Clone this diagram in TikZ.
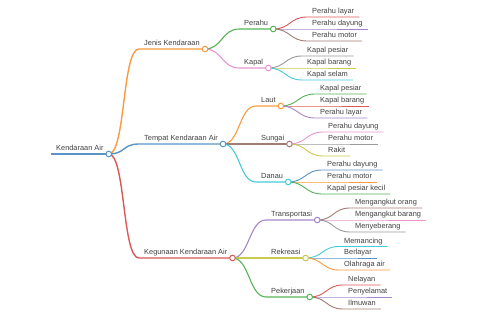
\documentclass[tikz,border=0pt]{standalone}
\usepackage{fontspec}
\setmainfont{Liberation Sans}
\definecolor{cblue}{HTML}{5A94C6}
\definecolor{corange}{HTML}{FB9A3E}
\definecolor{cgreen}{HTML}{56B356}
\definecolor{cred}{HTML}{DB5858}
\definecolor{cpurple}{HTML}{A685C9}
\definecolor{cbrown}{HTML}{A27C74}
\definecolor{cpink}{HTML}{E996CF}
\definecolor{cgray}{HTML}{9A9A9A}
\definecolor{colive}{HTML}{CACB4E}
\definecolor{ccyan}{HTML}{45CBD9}

\begin{document}
\begin{tikzpicture}[
    x=1pt, y=-1pt,
    topic/.style={
        anchor=south west, inner xsep=5pt, inner ysep=1pt,
        text height=5.6pt, text depth=1.8pt,
        font=\fontsize{7.4}{8.2}\selectfont, text=black!75
    },
    dot/.style={
        circle, draw, fill=white, inner sep=0pt,
        minimum size=5.6pt, line width=1pt
    },
    lvl0/.style={line width=2pt},
    lvl1/.style={line width=1.4pt},
    lvl2/.style={line width=1.1pt},
    lvl3/.style={line width=0.9pt}
]
\useasboundingbox (0,0) rectangle (480,320);

% ==================== TOPICS ====================
\node[topic] (root) at (51,154) {Kendaraan Air};

% Jenis Kendaraan
\node[topic] (jenis) at (139,49) {Jenis Kendaraan};
\node[topic] (perahu) at (239,29) {Perahu};
\node[topic] (kapal) at (239,68) {Kapal};
\node[topic] (perahulayar) at (307,17) {Perahu layar};
\node[topic] (perahudayung) at (307,29) {Perahu dayung};
\node[topic] (perahumotor) at (307,41) {Perahu motor};
\node[topic] (kapalpesiar) at (302,56) {Kapal pesiar};
\node[topic] (kapalbarang) at (302,68) {Kapal barang};
\node[topic] (kapalselam) at (302,80) {Kapal selam};

% Tempat Kendaraan Air
\node[topic] (tempat) at (139,144) {Tempat Kendaraan Air};
\node[topic] (laut) at (256,106) {Laut};
\node[topic] (sungai) at (256,144) {Sungai};
\node[topic] (danau) at (256,182) {Danau};
\node[topic] (lautpesiar) at (315,94) {Kapal pesiar};
\node[topic] (lautbarang) at (315,106) {Kapal barang};
\node[topic] (lautlayar) at (315,118) {Perahu layar};
\node[topic] (sungaidayung) at (323,132) {Perahu dayung};
\node[topic] (sungaimotor) at (323,144) {Perahu motor};
\node[topic] (rakit) at (323,156) {Rakit};
\node[topic] (danaudayung) at (322,170) {Perahu dayung};
\node[topic] (danaumotor) at (322,182) {Perahu motor};
\node[topic] (danaupesiar) at (322,194) {Kapal pesiar kecil};

% Kegunaan Kendaraan Air
\node[topic] (kegunaan) at (139,258) {Kegunaan Kendaraan Air};
\node[topic] (transportasi) at (266,220) {Transportasi};
\node[topic] (rekreasi) at (266,258) {Rekreasi};
\node[topic] (pekerjaan) at (266,297) {Pekerjaan};
\node[topic] (angkutorang) at (350,208) {Mengangkut orang};
\node[topic] (angkutbarang) at (350,220) {Mengangkut barang};
\node[topic] (menyeberang) at (350,232) {Menyeberang};
\node[topic] (memancing) at (339,246.5) {Memancing};
\node[topic] (berlayar) at (339,258) {Berlayar};
\node[topic] (olahraga) at (339,270) {Olahraga air};
\node[topic] (nelayan) at (343,285) {Nelayan};
\node[topic] (penyelamat) at (343,297) {Penyelamat};
\node[topic] (ilmuwan) at (343,309) {Ilmuwan};

% ==================== LINKS ====================
\draw[lvl0, cblue] (root.south west) -- (root.south east);
\draw[lvl1, corange] (root.south east) .. controls +(17,0) and +(-17,0) .. (jenis.south west) -- (jenis.south east);
\draw[lvl1, cblue] (root.south east) .. controls +(17,0) and +(-17,0) .. (tempat.south west) -- (tempat.south east);
\draw[lvl1, cred] (root.south east) .. controls +(17,0) and +(-17,0) .. (kegunaan.south west) -- (kegunaan.south east);

\draw[lvl2, cgreen] (jenis.south east) .. controls +(17,0) and +(-17,0) .. (perahu.south west) -- (perahu.south east);
\draw[lvl2, cpink] (jenis.south east) .. controls +(17,0) and +(-17,0) .. (kapal.south west) -- (kapal.south east);
\draw[lvl3, cred] (perahu.south east) .. controls +(17,0) and +(-17,0) .. (perahulayar.south west) -- (perahulayar.south east);
\draw[lvl3, cpurple] (perahu.south east) .. controls +(17,0) and +(-17,0) .. (perahudayung.south west) -- (perahudayung.south east);
\draw[lvl3, cbrown] (perahu.south east) .. controls +(17,0) and +(-17,0) .. (perahumotor.south west) -- (perahumotor.south east);
\draw[lvl3, cgray] (kapal.south east) .. controls +(17,0) and +(-17,0) .. (kapalpesiar.south west) -- (kapalpesiar.south east);
\draw[lvl3, colive] (kapal.south east) .. controls +(17,0) and +(-17,0) .. (kapalbarang.south west) -- (kapalbarang.south east);
\draw[lvl3, ccyan] (kapal.south east) .. controls +(17,0) and +(-17,0) .. (kapalselam.south west) -- (kapalselam.south east);

\draw[lvl2, corange] (tempat.south east) .. controls +(17,0) and +(-17,0) .. (laut.south west) -- (laut.south east);
\draw[lvl2, cbrown] (tempat.south east) .. controls +(17,0) and +(-17,0) .. (sungai.south west) -- (sungai.south east);
\draw[lvl2, ccyan] (tempat.south east) .. controls +(17,0) and +(-17,0) .. (danau.south west) -- (danau.south east);
\draw[lvl3, cgreen] (laut.south east) .. controls +(17,0) and +(-17,0) .. (lautpesiar.south west) -- (lautpesiar.south east);
\draw[lvl3, cred] (laut.south east) .. controls +(17,0) and +(-17,0) .. (lautbarang.south west) -- (lautbarang.south east);
\draw[lvl3, cpurple] (laut.south east) .. controls +(17,0) and +(-17,0) .. (lautlayar.south west) -- (lautlayar.south east);
\draw[lvl3, cpink] (sungai.south east) .. controls +(17,0) and +(-17,0) .. (sungaidayung.south west) -- (sungaidayung.south east);
\draw[lvl3, cgray] (sungai.south east) .. controls +(17,0) and +(-17,0) .. (sungaimotor.south west) -- (sungaimotor.south east);
\draw[lvl3, colive] (sungai.south east) .. controls +(17,0) and +(-17,0) .. (rakit.south west) -- (rakit.south east);
\draw[lvl3, cblue] (danau.south east) .. controls +(17,0) and +(-17,0) .. (danaudayung.south west) -- (danaudayung.south east);
\draw[lvl3, corange] (danau.south east) .. controls +(17,0) and +(-17,0) .. (danaumotor.south west) -- (danaumotor.south east);
\draw[lvl3, cgreen] (danau.south east) .. controls +(17,0) and +(-17,0) .. (danaupesiar.south west) -- (danaupesiar.south east);

\draw[lvl2, cpurple] (kegunaan.south east) .. controls +(17,0) and +(-17,0) .. (transportasi.south west) -- (transportasi.south east);
\draw[lvl2, colive] (kegunaan.south east) .. controls +(17,0) and +(-17,0) .. (rekreasi.south west) -- (rekreasi.south east);
\draw[lvl2, cgreen] (kegunaan.south east) .. controls +(17,0) and +(-17,0) .. (pekerjaan.south west) -- (pekerjaan.south east);
\draw[lvl3, cbrown] (transportasi.south east) .. controls +(17,0) and +(-17,0) .. (angkutorang.south west) -- (angkutorang.south east);
\draw[lvl3, cpink] (transportasi.south east) .. controls +(17,0) and +(-17,0) .. (angkutbarang.south west) -- (angkutbarang.south east);
\draw[lvl3, cgray] (transportasi.south east) .. controls +(17,0) and +(-17,0) .. (menyeberang.south west) -- (menyeberang.south east);
\draw[lvl3, ccyan] (rekreasi.south east) .. controls +(17,0) and +(-17,0) .. (memancing.south west) -- (memancing.south east);
\draw[lvl3, cblue] (rekreasi.south east) .. controls +(17,0) and +(-17,0) .. (berlayar.south west) -- (berlayar.south east);
\draw[lvl3, corange] (rekreasi.south east) .. controls +(17,0) and +(-17,0) .. (olahraga.south west) -- (olahraga.south east);
\draw[lvl3, cred] (pekerjaan.south east) .. controls +(17,0) and +(-17,0) .. (nelayan.south west) -- (nelayan.south east);
\draw[lvl3, cpurple] (pekerjaan.south east) .. controls +(17,0) and +(-17,0) .. (penyelamat.south west) -- (penyelamat.south east);
\draw[lvl3, cbrown] (pekerjaan.south east) .. controls +(17,0) and +(-17,0) .. (ilmuwan.south west) -- (ilmuwan.south east);

% ==================== DOTS ====================
\node[dot, draw=cblue] (rootdot) at (root.south east) {};
\node[dot, draw=corange] (jenisdot) at (jenis.south east) {};
\node[dot, draw=cblue] (tempatdot) at (tempat.south east) {};
\node[dot, draw=cred] (kegunaandot) at (kegunaan.south east) {};
\node[dot, draw=cgreen] (perahudot) at (perahu.south east) {};
\node[dot, draw=cpink] (kapaldot) at (kapal.south east) {};
\node[dot, draw=corange] (lautdot) at (laut.south east) {};
\node[dot, draw=cbrown] (sungaidot) at (sungai.south east) {};
\node[dot, draw=ccyan] (danaudot) at (danau.south east) {};
\node[dot, draw=cpurple] (transportasidot) at (transportasi.south east) {};
\node[dot, draw=colive] (rekreasidot) at (rekreasi.south east) {};
\node[dot, draw=cgreen] (pekerjaandot) at (pekerjaan.south east) {};

\end{tikzpicture}
\end{document}
